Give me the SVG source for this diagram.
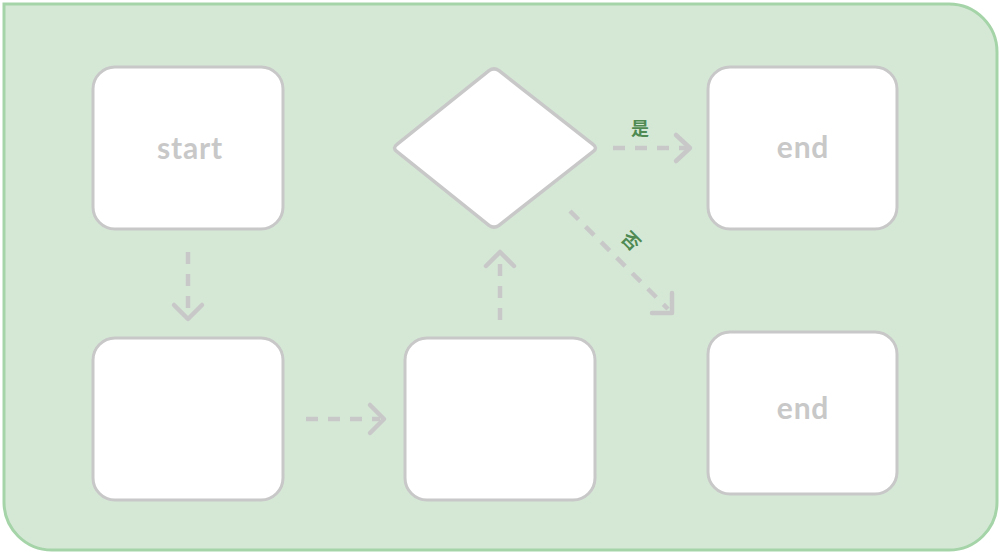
<svg xmlns="http://www.w3.org/2000/svg" width="1000" height="553" viewBox="0 0 1000 553">
<style>
.box{fill:#ffffff;stroke:#c8c8c8;stroke-width:3}
.lbl{font-family:"Lato","Noto Sans",sans-serif;font-weight:bold;font-size:30px;letter-spacing:0.8px;fill:#c8c8c8;text-anchor:middle}
.edge{fill:none;stroke:#c8c8c8;stroke-width:4.5;stroke-dasharray:12 10}
.head{fill:none;stroke:#c8c8c8;stroke-width:4.5;stroke-linecap:round;stroke-linejoin:round}
.cn{font-family:"Noto Sans CJK SC",sans-serif;font-weight:bold;font-size:18px;fill:#4e8a52;text-anchor:middle;dominant-baseline:central}
</style>
<path id="container" d="M4 4 H949 A48 48 0 0 1 997 52 V502 A48 48 0 0 1 949 550 H52 A48 48 0 0 1 4 502 Z" fill="#d5e8d6" stroke="#a5d4a8" stroke-width="3"/>
<g id="start"><rect class="box" x="93" y="67" width="190" height="162" rx="22"/><text class="lbl" x="190" y="159">start</text></g>
<g id="step1"><rect class="box" x="93" y="338" width="190" height="162" rx="22"/></g>
<g id="step2"><rect class="box" x="405" y="338" width="190" height="162" rx="22"/></g>
<g id="decision"><path class="box" style="stroke-width:3.5" d="M489 70.7 Q494 67 499 70.7 L593 144.3 Q598 148 593 151.7 L499 225.3 Q494 229 489 225.3 L397 151.7 Q392 148 397 144.3 Z"/></g>
<g id="end1"><rect class="box" x="708" y="67" width="189" height="162" rx="22"/><text class="lbl" x="803" y="158">end</text></g>
<g id="end2"><rect class="box" x="708" y="332" width="189" height="162" rx="22"/><text class="lbl" x="803" y="419">end</text></g>
<g id="connectors">
<path class="edge" d="M188 252 V316"/><path class="head" d="M174 305 L188 319 L202 305"/>
<path class="edge" d="M306 419 H380"/><path class="head" d="M370 405 L384 419 L370 433"/>
<path class="edge" d="M500 320 V256"/><path class="head" d="M486 266 L500 252 L514 266"/>
<path class="edge" d="M613 148 H688"/><path class="head" d="M676 135 L690 148 L676 161"/>
<path class="edge" d="M570 211 L668 309"/><path class="head" d="M672 293 V313 H652"/>
<text class="cn" x="640" y="127">是</text>
<text class="cn" x="632" y="240" transform="rotate(45 632 240)">否</text>
</g>
</svg>
